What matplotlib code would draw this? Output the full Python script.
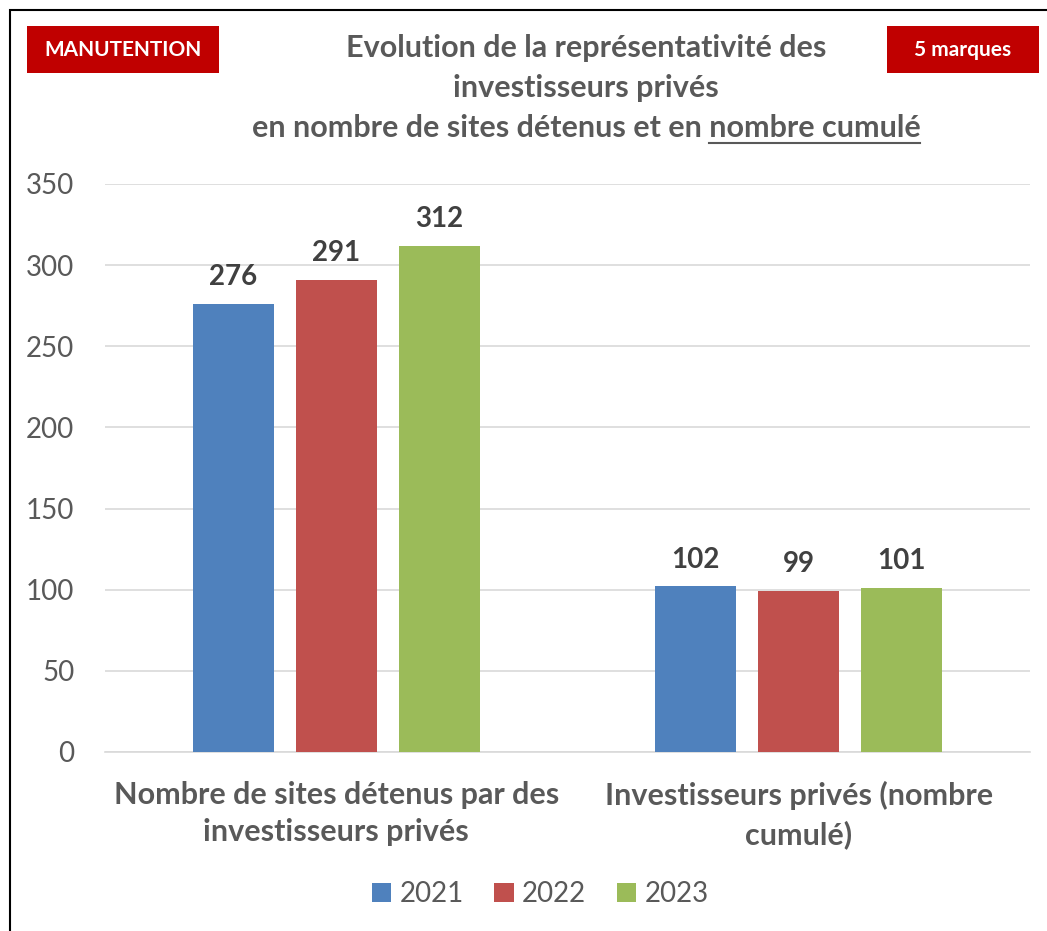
import numpy as np
import matplotlib.pyplot as plt
from matplotlib.patches import Rectangle

plt.rcParams['font.family'] = ['Lato', 'DejaVu Sans']

categories = ["Nombre de sites détenus par des\ninvestisseurs privés",
              "Investisseurs privés (nombre\ncumulé)"]
years = ["2021", "2022", "2023"]
values = {
    "2021": [276, 102],
    "2022": [291, 99],
    "2023": [312, 101],
}
colors = ["#4F81BD", "#C0504D", "#9BBB59"]

fig = plt.figure(figsize=(10.47, 9.31), dpi=100)
ax = fig.add_axes([0.1003, 0.1923, 0.8835, 0.6101])

x = np.arange(len(categories))
width = 0.175
offsets = [-0.223, 0, 0.223]
for yr, off, c in zip(years, offsets, colors):
    bars = ax.bar(x + off, values[yr], width, color=c, label=yr, zorder=3)
    for b in bars:
        ax.annotate(str(int(b.get_height())), (b.get_x() + b.get_width() / 2, b.get_height()),
                    xytext=(0, 10), textcoords="offset points", ha="center", va="bottom",
                    fontsize=20, fontweight="bold", color="#404040")

ax.set_xlim(-0.5, 1.5)
ax.set_ylim(0, 350)
ax.set_yticks(range(0, 351, 50))
ax.yaxis.grid(True, color="#D9D9D9", linewidth=1.2, zorder=0)
for s in ["top", "right", "left"]:
    ax.spines[s].set_visible(False)
ax.spines["bottom"].set_color("#D9D9D9")
ax.spines["bottom"].set_linewidth(1.2)
ax.tick_params(axis="y", length=0, pad=22, labelsize=20, labelcolor="#595959")
ax.tick_params(axis="x", length=0, pad=21)
ax.set_xticks(x)
ax.set_xticklabels(categories, fontsize=22, fontweight="bold", color="#595959", linespacing=1.4)

leg = fig.legend(loc="center", bbox_to_anchor=(540 / 1047, 1 - 894 / 931), ncol=3, frameon=False,
                 fontsize=20, handlelength=0.7, handleheight=0.7, handletextpad=0.3,
                 columnspacing=1.1, labelcolor="#595959")

# border
fig.patches.append(Rectangle((10 / 1047, -0.01), 1.0, 1 - 10 / 931 + 0.01, transform=fig.transFigure,
                             fill=False, edgecolor="black", linewidth=1.5))

# red boxes
for (x0, x1, txt) in [(27, 219, "MANUTENTION"), (887, 1039, "5 marques")]:
    fig.patches.append(Rectangle((x0 / 1047, 1 - 73 / 931), (x1 - x0) / 1047, 47 / 931,
                                 transform=fig.transFigure, facecolor="#C00000", edgecolor="none"))
    fig.text((x0 + x1) / 2 / 1047, 1 - 49.5 / 931, txt, ha="center", va="center",
             color="white", fontsize=15, fontweight="bold")

# title
tx = 586 / 1047
tcol = "#595959"
fig.text(tx, 1 - 48 / 931, "Evolution de la représentativité des", ha="center", va="center",
         fontsize=22, fontweight="bold", color=tcol)
fig.text(tx, 1 - 88 / 931, "investisseurs privés", ha="center", va="center",
         fontsize=22, fontweight="bold", color=tcol)
t3 = fig.text(tx, 1 - 128 / 931, "en nombre de sites détenus et en nombre cumulé", ha="center",
              va="center", fontsize=22, fontweight="bold", color=tcol)

fig.canvas.draw()
r = fig.canvas.get_renderer()
bb = t3.get_window_extent(r)
tmp = fig.text(0, 0, "nombre cumulé", fontsize=22, fontweight="bold")
w = tmp.get_window_extent(r).width
tmp.remove()
fw, fh = fig.bbox.width, fig.bbox.height
uy = bb.y0 - 1
fig.add_artist(plt.Line2D([(bb.x1 - w) / fw, bb.x1 / fw], [uy / fh, uy / fh],
                          transform=fig.transFigure, color=tcol, linewidth=1.5))

fig.savefig("out.png", dpi=100)
